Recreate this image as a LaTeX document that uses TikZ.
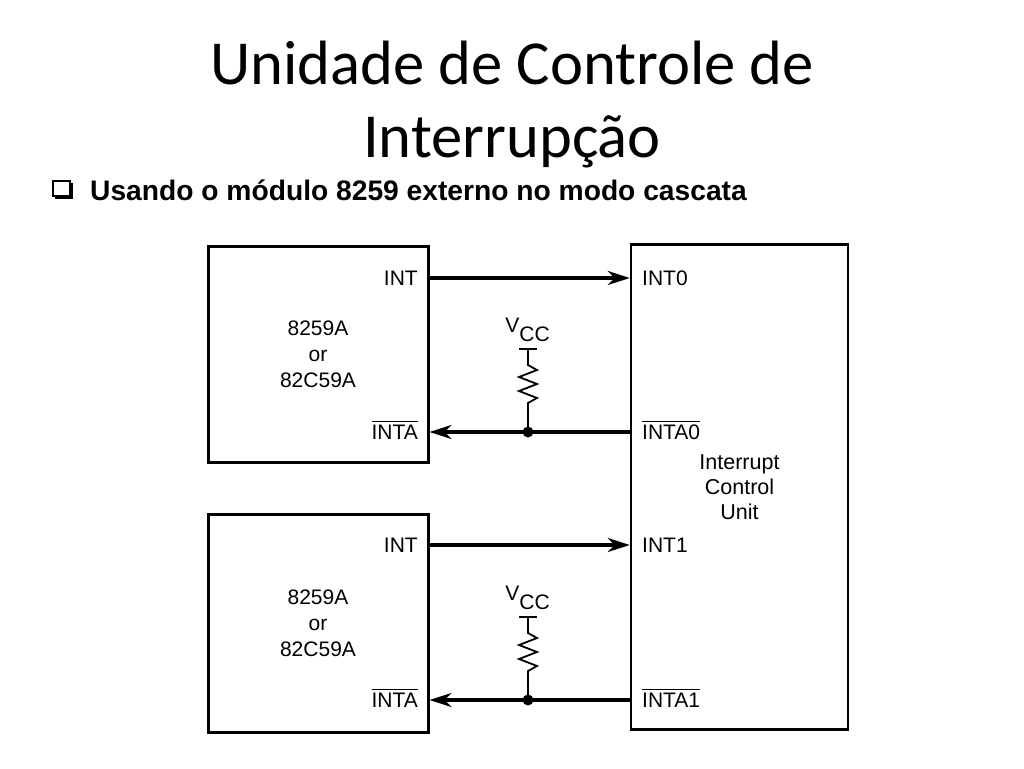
\documentclass[tikz,border=0pt]{standalone}
\usepackage{fontspec}
\setmainfont{Liberation Sans}
\newfontfamily\titlefont{Carlito}
\usepackage{tikz}
\usetikzlibrary{arrows.meta}

\begin{document}
\begin{tikzpicture}[x=1pt, y=-1pt,
  chip/.style={draw, line width=3pt, inner sep=0pt, align=center,
    font=\fontsize{21}{26}\selectfont},
  pin/.style={inner sep=0pt, text height=15pt, text depth=0pt,
    font=\fontsize{21}{25}\selectfont},
  wire/.style={line width=3.2pt},
  sig/.style={wire, -{Stealth[length=22pt, width=14pt, inset=7pt]}},
  res/.style={line width=1.8pt, line join=miter}]
\fill[white] (0,0) rectangle (1024,768);
\useasboundingbox (0,0) rectangle (1024,768);

% title
\node[font=\titlefont\fontsize{62.6}{73}\selectfont, anchor=base] (title1) at (512,84) {Unidade de Controle de};
\node[font=\titlefont\fontsize{62.6}{73}\selectfont, anchor=base] (title2) at (512,157) {Interrupção};

\fill (55,183) rectangle (73,199);
\draw[line width=2pt, fill=white] (53,181) rectangle (70,196);
\node[font=\bfseries\fontsize{28.2}{32}\selectfont, anchor=base west, inner sep=0pt] (sub) at (90,200) {Usando o módulo 8259 externo no modo cascata};

% boxes
\node[chip, minimum width=220pt, minimum height=216pt] (pic1) at (318,354) {8259A\\or\\82C59A};
\node[chip, minimum width=220pt, minimum height=218pt] (pic2) at (318,623) {8259A\\or\\82C59A};
\node[chip, minimum width=217pt, minimum height=485pt, line width=2.4pt, font=\fontsize{21.5}{25}\selectfont] (icu) at (739.5,487) {Interrupt\\Control\\Unit};

% pin labels
\node[pin, anchor=east] (aint) at (418,278) {INT};
\node[pin, anchor=east] (ainta) at (418,432) {$\overline{\mbox{INTA}\rule{0pt}{16.5pt}}$};
\node[pin, anchor=east] (bint) at (418,545) {INT};
\node[pin, anchor=east] (binta) at (418,700) {$\overline{\mbox{INTA}\rule{0pt}{16.5pt}}$};
\node[pin, anchor=west] (int0) at (642,278) {INT0};
\node[pin, anchor=west] (inta0) at (642,432) {$\overline{\mbox{INTA0}\rule{0pt}{16.5pt}}$};
\node[pin, anchor=west] (int1) at (642,545) {INT1};
\node[pin, anchor=west] (inta1) at (642,700) {$\overline{\mbox{INTA1}\rule{0pt}{16.5pt}}$};

% signals
\draw[sig] (aint.east -| pic1.east) -- (int0.west -| icu.west);
\draw[sig] (inta0.west -| icu.west) -- (ainta.east -| pic1.east);
\draw[sig] (bint.east -| pic2.east) -- (int1.west -| icu.west);
\draw[sig] (inta1.west -| icu.west) -- (binta.east -| pic2.east);

% pull-ups
\coordinate (vcc0) at (528,349);
\coordinate (j0) at (528,432);
\coordinate (vcc1) at (528,617);
\coordinate (j1) at (528,700);
\node[pin, anchor=base, text height=, text depth=] (vcca) at (527.5,332) {V\raisebox{-9pt}{CC}};
\node[pin, anchor=base, text height=, text depth=] (vccb) at (527.5,600) {V\raisebox{-9pt}{CC}};

\draw[res] ([xshift=-9pt]vcc0) -- ([xshift=9pt]vcc0);
\draw[res] (vcc0) -- ++(0,16) -- ++(9,5) -- ++(-18,7) -- ++(18,7) -- ++(-18,7) -- ++(18,7) -- ++(-9,5) -- (j0);
\fill (j0) circle (5.5);
\draw[res] ([xshift=-9pt]vcc1) -- ([xshift=9pt]vcc1);
\draw[res] (vcc1) -- ++(0,16) -- ++(9,5) -- ++(-18,7) -- ++(18,7) -- ++(-18,7) -- ++(18,7) -- ++(-9,5) -- (j1);
\fill (j1) circle (5.5);
\end{tikzpicture}
\end{document}
